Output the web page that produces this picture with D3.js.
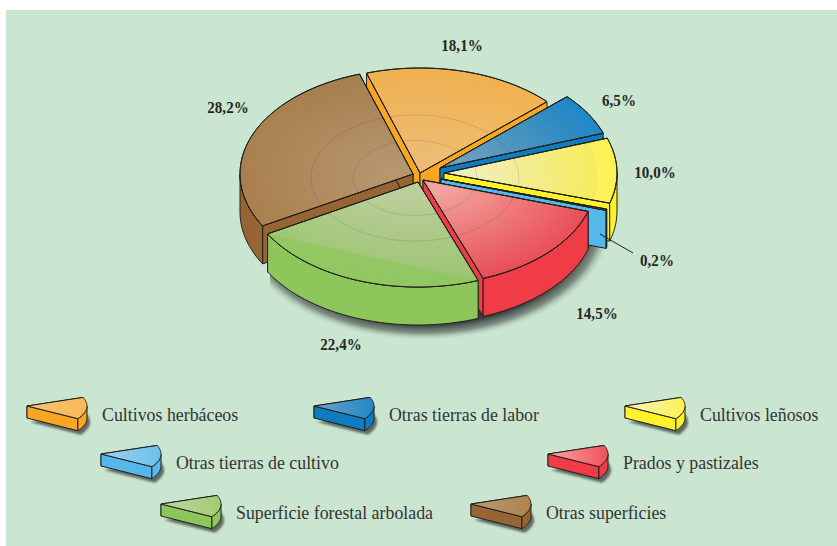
<!DOCTYPE html>
<html>
<head>
<meta charset="utf-8">
<script src="https://cdnjs.cloudflare.com/ajax/libs/d3/7.8.5/d3.min.js"></script>
<style>
  html, body { margin: 0; padding: 0; background: #fff; overflow: hidden; }
  text { font-family: "Liberation Serif", serif; fill: #262626; }
  .pct { font-size: 16px; font-weight: bold; text-anchor: middle; }
  .legendText { font-size: 19.5px; fill: #333; }
  .edge { stroke: #20201c; stroke-width: 1; stroke-linejoin: round; }
</style>
</head>
<body>
<div id="chart"></div>
<script>
// Data
const categories = ['Cultivos herbáceos', 'Otras tierras de labor', 'Cultivos leñosos', 'Otras tierras de cultivo',
  'Prados y pastizales', 'Superficie forestal arbolada', 'Otras superficies'];
const shares = [18.1, 6.5, 10.0, 0.2, 14.5, 22.4, 28.2];

// Styles, one per category
const wallColors = ['#f9a623', '#0d7cc1', '#fff22b', '#55b8ea', '#ef3c47', '#8dc75c', '#976534'];
const topInner = ['#f5c478', '#6ea4c4', '#f6f4c0', '#9fd2ee', '#f8a8a2', '#c2d6a2', '#bb9a72'];
const topOuter = ['#fab853', '#1e87c8', '#fdf150', '#6cc0ec', '#f0505a', '#a0cc74', '#ad8350'];

// Layout of the exploded pie, one per category
const apexX = [420, 440, 444, 441, 423, 418, 413];
const apexY = [173, 168, 173, 179, 180, 182, 174];
const labelX = [462, 619, 655, 657, 597, 341, 228];
const labelY = [51, 106, 178, 266, 319, 350, 113];
const paintOrder = [0, 6, 1, 2, 3, 4, 5];
const legendX = [27, 314, 625, 101, 548, 161, 471];
const legendY = [406, 406, 406, 454, 454, 504, 504];

const width = 837, height = 546;
const rx = 173, ry = 105, depth = 38;
const startDeg = -18;
const condense = 0.94, legendCondense = 0.915;

const svg = d3.select('#chart').append('svg')
    .attr('width', width)
    .attr('height', height)
    .style('display', 'block');

const defs = svg.append('defs');

// green panel
svg.append('rect')
    .attr('x', 6).attr('y', 10)
    .attr('width', width - 6).attr('height', height - 10)
    .attr('fill', '#cae6d1');

const decimalComma = d3.formatLocale({decimal: ',', thousands: '.', grouping: [3], currency: ['', '']});
const pct = d => decimalComma.format('.1f')(d) + '%';

const toRad = d => d * Math.PI / 180;
const line = d3.line();

// d3.pie gives the angles, everything else is projected on an ellipse
const pieData = d3.pie().sort(null)
    .startAngle(toRad(startDeg))
    .endAngle(toRad(startDeg + 360))(shares);

const rim = (cx, cy, a, rX, rY, dy = 0) => [cx + rX * Math.sin(a), cy - rY * Math.cos(a) + dy];

function arcPoints(cx, cy, a0, a1, rX, rY, dy = 0) {
  const n = Math.max(2, Math.ceil(Math.abs(a1 - a0) / toRad(1.5)));
  return d3.range(n + 1).map(i => rim(cx, cy, a0 + (a1 - a0) * i / n, rX, rY, dy));
}

// draws one extruded wedge. Cut walls first, then the round wall, then the top
function drawWedge(g, cx, cy, a0, a1, rX, rY, h, wall, topFill) {
  const c0 = rim(cx, cy, a0, rX, rY), c1 = rim(cx, cy, a1, rX, rY);
  [c0, c1].forEach(c => {
    g.append('path').attr('class', 'edge')
        .attr('d', line([[cx, cy], c, [c[0], c[1] + h], [cx, cy + h]]) + 'Z')
        .attr('fill', wall);
  });
  const from = Math.max(a0, Math.PI / 2), to = Math.min(a1, 3 * Math.PI / 2);
  if (to > from) {
    const upper = arcPoints(cx, cy, from, to, rX, rY);
    const lower = arcPoints(cx, cy, from, to, rX, rY, h).reverse();
    g.append('path').attr('class', 'edge')
        .attr('d', line(upper.concat(lower)) + 'Z')
        .attr('fill', wall);
  }
  const outline = line([[cx, cy]].concat(arcPoints(cx, cy, a0, a1, rX, rY))) + 'Z';
  g.append('path').attr('class', 'edge').attr('d', outline).attr('fill', topFill);
  return outline;
}

// soft shadow under the pie
const shadowGrad = defs.append('radialGradient').attr('id', 'shadowGrad');
[[0, '#333', 0.95], [0.87, '#333', 0.95], [0.94, '#66736b', 0.75], [1, '#b0c8b8', 0]].forEach(s => {
  shadowGrad.append('stop').attr('offset', s[0]).attr('stop-color', s[1]).attr('stop-opacity', s[2]);
});
defs.append('clipPath').attr('id', 'shadowClip').append('rect')
    .attr('x', 270).attr('y', 236).attr('width', 350).attr('height', 110);
svg.append('g').attr('clip-path', 'url(#shadowClip)')
  .append('ellipse')
    .attr('cx', 424).attr('cy', 222)
    .attr('rx', 188).attr('ry', 118)
    .attr('fill', 'url(#shadowGrad)');

// main pie
paintOrder.forEach(i => {
  const d = pieData[i];
  const cx = apexX[i], cy = apexY[i];
  const g = svg.append('g').attr('class', `slice slice-${i}`);

  const grad = defs.append('radialGradient')
      .attr('id', `top${i}`)
      .attr('gradientUnits', 'userSpaceOnUse')
      .attr('cx', 0).attr('cy', 0).attr('r', 1)
      .attr('gradientTransform', `translate(${cx},${cy}) scale(${rx},${ry})`);
  grad.append('stop').attr('offset', 0.15).attr('stop-color', topInner[i]);
  grad.append('stop').attr('offset', 1).attr('stop-color', topOuter[i]);

  const outline = drawWedge(g, cx, cy, d.startAngle, d.endAngle, rx, ry, depth, wallColors[i], `url(#top${i})`);

  // concentric hatching that gives the top face its engraved look
  defs.append('clipPath').attr('id', `clip${i}`).append('path').attr('d', outline);
  const rings = g.append('g').attr('clip-path', `url(#clip${i})`);
  rings.selectAll('ellipse.hatch')
      .data(d3.range(6, rx + 10, 2))
      .join('ellipse')
      .attr('class', 'hatch')
      .attr('cx', 415).attr('cy', 178)
      .attr('rx', r => r).attr('ry', r => r * ry / rx)
      .attr('fill', 'none')
      .attr('stroke', '#3a3020')
      .attr('stroke-opacity', 0.08)
      .attr('stroke-width', 0.8);
  rings.selectAll('ellipse.band')
      .data([62, 104])
      .join('ellipse')
      .attr('class', 'band')
      .attr('cx', 415).attr('cy', 178)
      .attr('rx', r => r).attr('ry', r => r * ry / rx)
      .attr('fill', 'none')
      .attr('stroke', '#333')
      .attr('stroke-opacity', 0.14)
      .attr('stroke-width', 1);

  // flat facet along the rim of the green slice
  if (categories[i] === 'Superficie forestal arbolada') {
    g.append('path')
        .attr('d', line(arcPoints(cx, cy, d.startAngle, d.endAngle, rx, ry)) + 'Z')
        .attr('fill', wallColors[i])
        .attr('fill-opacity', 0.75);
  }
  g.append('path').attr('class', 'edge').attr('d', outline).attr('fill', 'none');
});

// percentage labels
svg.selectAll('text.pct')
    .data(shares)
    .join('text')
    .attr('class', 'pct')
    .attr('transform', (d, i) => `translate(${labelX[i]},${labelY[i]}) scale(${condense},1)`)
    .text(pct);

// leader for the tiny slice
const tiny = categories.indexOf('Otras tierras de cultivo');
svg.append('line')
    .attr('x1', labelX[tiny] - 57).attr('y1', labelY[tiny] - 32)
    .attr('x2', labelX[tiny] - 24).attr('y2', labelY[tiny] - 13)
    .attr('stroke', '#20201c')
    .attr('stroke-width', 1);

// legend, same wedge at a small size
const legA0 = toRad(69), legA1 = toRad(122);
const legRx = 60, legRy = 24, legDepth = 12;
defs.append('filter').attr('id', 'soft').append('feGaussianBlur').attr('stdDeviation', 1);
categories.forEach((name, i) => {
  const g = svg.append('g').attr('class', 'legendItem');
  const x = legendX[i], y = legendY[i];

  const fade = defs.append('linearGradient').attr('id', `leg${i}`);
  fade.append('stop').attr('offset', 0).attr('stop-color', topInner[i]);
  fade.append('stop').attr('offset', 1).attr('stop-color', topOuter[i]);

  const shadowPts = [[x, y + legDepth]].concat(arcPoints(x, y, legA0, legA1, legRx, legRy, legDepth));
  g.append('path')
      .attr('d', line(shadowPts) + 'Z')
      .attr('transform', 'translate(3,4)')
      .attr('fill', '#5f6a64')
      .attr('filter', 'url(#soft)');
  drawWedge(g, x, y, legA0, legA1, legRx, legRy, legDepth, wallColors[i], `url(#leg${i})`);
  g.append('text')
      .attr('class', 'legendText')
      .attr('transform', `translate(${x + 75},${y + 15}) scale(${legendCondense},1)`)
      .text(name);
});
</script>
</body>
</html>
